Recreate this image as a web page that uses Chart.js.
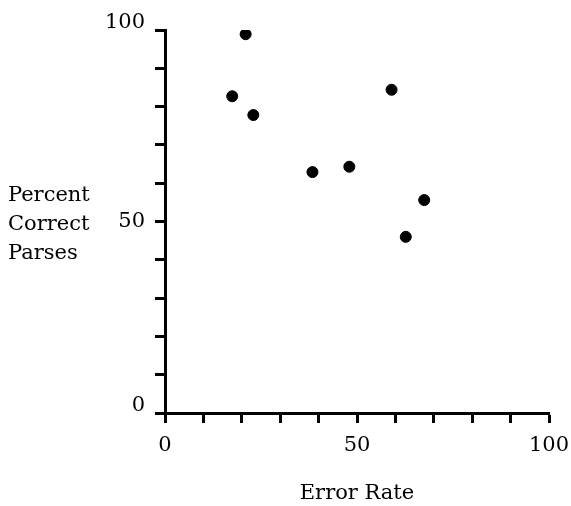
<!DOCTYPE html>
<html>
<head>
<meta charset="utf-8">
<script src="https://cdn.jsdelivr.net/npm/chart.js@4"></script>
<style>
  html, body { margin: 0; padding: 0; background: #fff; }
  #wrap { position: relative; width: 571px; height: 506px; }
  #ytitle {
    position: absolute; left: 8px; top: 180px;
    font-family: "DejaVu Serif", serif; font-size: 21px; line-height: 29px; color: #000;
  }
</style>
</head>
<body>
<div id="wrap">
  <canvas id="myChart" width="571" height="506"></canvas>
  <div id="ytitle">Percent<br>Correct<br>Parses</div>
</div>
<script>
var errorRate = [17.5, 21.0, 23.0, 38.4, 48.0, 59.0, 62.7, 67.5];
var percentCorrect = [82.7, 98.9, 77.8, 62.9, 64.3, 84.4, 46.0, 55.6];
var labeledTicks = [0, 50, 100];

var points = [];
for (var i = 0; i < errorRate.length; i++) {
    points.push({x: errorRate[i], y: percentCorrect[i]});
}

var serif = "'DejaVu Serif', serif";

var ctx = document.getElementById("myChart").getContext("2d");
var myChart = new Chart(ctx, {
    type: "scatter",
    data: {
        datasets: [{
            label: "Parses",
            data: points,
            backgroundColor: "#000",
            borderColor: "#000",
            pointRadius: 5.5,
            pointHoverRadius: 5.5
        }]
    },
    options: {
        responsive: false,
        animation: false,
        layout: { padding: { top: 30, right: 22, left: 0, bottom: 0 } },
        plugins: { legend: { display: false }, tooltip: { enabled: false } },
        scales: {
            x: {
                type: "linear",
                min: 0, max: 100,
                border: { display: true, color: "#000", width: 3 },
                grid: { drawOnChartArea: false, color: "#000", tickLength: 10, tickWidth: 3 },
                ticks: {
                    stepSize: 10,
                    maxRotation: 0,
                    autoSkip: false,
                    color: "#000",
                    padding: 10,
                    font: { family: serif, size: 21 },
                    callback: function(v) { return labeledTicks.indexOf(v) >= 0 ? String(v) : ""; }
                },
                title: {
                    display: true,
                    text: "Error Rate",
                    color: "#000",
                    font: { family: serif, size: 21 },
                    padding: { top: 19, bottom: 0 }
                },
                afterFit: function(scale) {
                    scale.height = 93;
                    scale.paddingLeft = 0;
                    scale.paddingRight = 0;
                }
            },
            y: {
                type: "linear",
                min: 0, max: 100,
                border: { display: true, color: "#000", width: 3 },
                grid: { drawOnChartArea: false, color: "#000", tickLength: 10, tickWidth: 3 },
                ticks: {
                    stepSize: 10,
                    autoSkip: false,
                    color: "#000",
                    padding: 10,
                    font: { family: serif, size: 21, lineHeight: "14px" },
                    callback: function(v) {
                        if (v === 0 || v === 100) return [String(v), ""];
                        return v === 50 ? "50" : "";
                    }
                },
                afterFit: function(scale) {
                    scale.width = 165;
                    scale.paddingTop = 0;
                    scale.paddingBottom = 0;
                }
            }
        }
    }
});
</script>
</body>
</html>
